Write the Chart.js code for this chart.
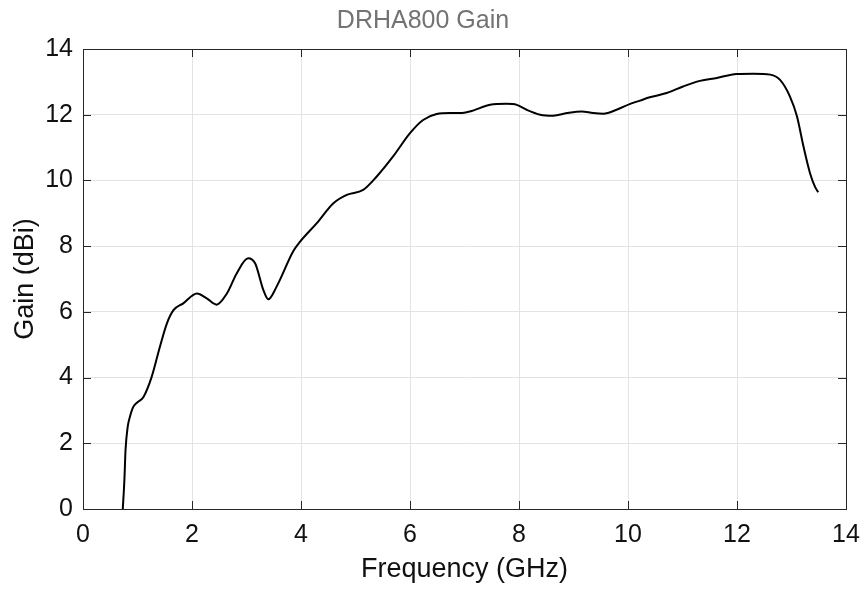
<!DOCTYPE html>
<html>
<head>
<meta charset="utf-8">
<script src="https://cdn.jsdelivr.net/npm/chart.js@4"></script>
<style>
  html, body { margin: 0; padding: 0; background: #fff; }
  #wrap { width: 866px; height: 589px; }
</style>
</head>
<body>
<div id="wrap"><canvas id="gain"></canvas></div>
<script>
// Frequency (GHz) and gain (dBi)
const freqGHz = [0.73, 0.76, 0.78, 0.82, 0.86, 0.92, 1.0, 1.11, 1.26, 1.41, 1.54, 1.66, 1.84, 2.09,
  2.27, 2.45, 2.64, 2.82, 3.03, 3.16, 3.31, 3.40, 3.55, 3.86, 3.98, 4.29, 4.59, 4.84, 5.14,
  5.39, 5.69, 6.0, 6.24, 6.49, 6.73, 6.92, 7.10, 7.47, 7.77, 7.96, 8.14, 8.39, 8.63, 8.88,
  9.15, 9.36, 9.55, 9.79, 10.04, 10.22, 10.40, 10.71, 11.01, 11.32, 11.63, 11.99, 12.30,
  12.61, 12.79, 12.97, 13.10, 13.22, 13.34, 13.43, 13.49];
const gainDBi = [0.0, 0.9, 1.78, 2.5, 2.8, 3.1, 3.25, 3.41, 4.02, 4.93, 5.65, 6.05, 6.26, 6.56,
  6.41, 6.22, 6.56, 7.17, 7.63, 7.47, 6.66, 6.38, 6.76, 7.85, 8.13, 8.7, 9.3, 9.56, 9.71,
  10.12, 10.73, 11.44, 11.84, 12.02, 12.05, 12.05, 12.1, 12.3, 12.33, 12.3, 12.15, 12.0, 11.97, 12.05,
  12.1, 12.05, 12.03, 12.15, 12.33, 12.43, 12.53, 12.66, 12.86, 13.03, 13.12, 13.24, 13.25,
  13.22, 13.06, 12.56, 11.95, 11.03, 10.22, 9.81, 9.64];
const xTicks = [0, 2, 4, 6, 8, 10, 12, 14];
const yTicks = [0, 2, 4, 6, 8, 10, 12, 14];

const points = freqGHz.map((f, i) => ({ x: f, y: gainDBi[i] }));
const FONT = 'Liberation Sans, Arial, Helvetica, sans-serif';

// box around the axes with inward tick marks on all four sides (MATLAB look)
const boxTicks = {
  id: 'boxTicks',
  afterDraw(chart) {
    const { ctx, chartArea: a, scales } = chart;
    const len = 8;
    ctx.save();
    ctx.strokeStyle = '#262626';
    ctx.lineWidth = 1;
    ctx.beginPath();
    xTicks.forEach(v => {
      const px = Math.round(scales.x.getPixelForValue(v)) + 0.5;
      ctx.moveTo(px, a.bottom); ctx.lineTo(px, a.bottom - len);
      ctx.moveTo(px, a.top); ctx.lineTo(px, a.top + len);
    });
    yTicks.forEach(v => {
      const py = Math.round(scales.y.getPixelForValue(v)) + 0.5;
      ctx.moveTo(a.left, py); ctx.lineTo(a.left + len, py);
      ctx.moveTo(a.right, py); ctx.lineTo(a.right - len, py);
    });
    ctx.stroke();
    ctx.strokeRect(Math.round(a.left) + 0.5, Math.round(a.top) + 0.5,
      Math.round(a.right - a.left), Math.round(a.bottom - a.top));
    ctx.restore();
  }
};

new Chart(document.getElementById('gain'), {
  type: 'line',
  data: {
    datasets: [{
      label: 'Gain',
      data: points,
      borderColor: '#000',
      borderWidth: 2,
      pointRadius: 0,
      fill: false,
      cubicInterpolationMode: 'monotone'
    }]
  },
  options: {
    responsive: true,
    maintainAspectRatio: false,
    animation: false,
    devicePixelRatio: 1,
    layout: { padding: { left: 0, right: 20, top: 0, bottom: 0 } },
    plugins: {
      legend: { display: false },
      tooltip: { enabled: false },
      title: {
        display: true,
        text: 'DRHA800 Gain',
        color: '#737373',
        font: { family: FONT, size: 25, weight: 'normal' },
        padding: { top: 6, bottom: 13 }
      }
    },
    scales: {
      x: {
        type: 'linear',
        min: 0,
        max: 14,
        afterFit(scale) {
          scale.height = 80;
          scale.paddingLeft = 0;
          scale.paddingRight = 0;
        },
        afterBuildTicks(scale) { scale.ticks = xTicks.map(v => ({ value: v })); },
        border: { display: false },
        grid: { color: '#e3e3e3', drawTicks: false },
        ticks: { color: '#111', padding: 11, font: { family: FONT, size: 25 } },
        title: {
          display: true,
          text: 'Frequency (GHz)',
          color: '#111',
          font: { family: FONT, size: 27 },
          padding: { top: 0, bottom: 3 }
        }
      },
      y: {
        min: 0,
        max: 14,
        afterFit(scale) {
          scale.width = 83;
          scale.paddingTop = 0;
          scale.paddingBottom = 0;
        },
        afterBuildTicks(scale) { scale.ticks = yTicks.map(v => ({ value: v })); },
        border: { display: false },
        grid: { color: '#e3e3e3', drawTicks: false },
        ticks: { color: '#111', padding: 10, font: { family: FONT, size: 25 } },
        title: {
          display: true,
          text: 'Gain (dBi)',
          color: '#111',
          font: { family: FONT, size: 27 },
          padding: { top: 9, bottom: 0 }
        }
      }
    }
  },
  plugins: [boxTicks]
});
</script>
</body>
</html>
